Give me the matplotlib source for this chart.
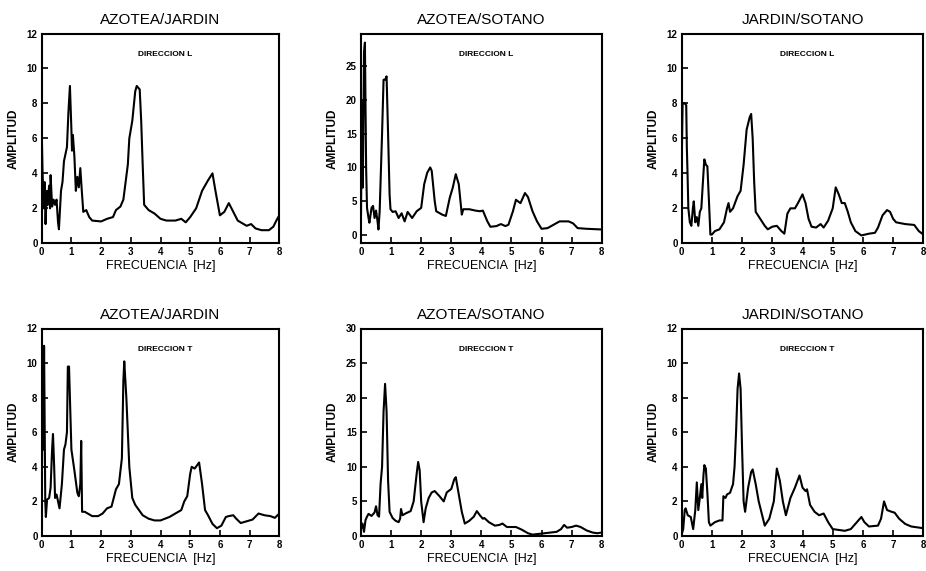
import matplotlib
matplotlib.use("Agg")
import matplotlib.pyplot as plt

plt.rcParams['font.family'] = ['Liberation Sans', 'DejaVu Sans']

# ---- Spectral ratios, direction L ----
f_azjar_L = [0.0, 0.03, 0.07, 0.1, 0.13, 0.17, 0.2, 0.25, 0.28, 0.3, 0.35, 0.4, 0.45, 0.5, 0.55,
             0.58, 0.65, 0.7, 0.75, 0.85, 0.9, 0.95, 1.0, 1.02, 1.05, 1.1, 1.15, 1.2, 1.25, 1.3,
             1.35, 1.4, 1.5, 1.6, 1.7, 2.0, 2.2, 2.4, 2.5, 2.65, 2.75, 2.9, 2.95, 3.05, 3.15,
             3.2, 3.3, 3.35, 3.4, 3.45, 3.6, 3.8, 4.0, 4.2, 4.5, 4.7, 4.85, 5.0, 5.2, 5.4,
             5.6, 5.75, 5.85, 6.0, 6.15, 6.3, 6.45, 6.6, 6.7, 6.9, 7.05, 7.2, 7.4, 7.65, 7.8,
             7.9, 8.0]
a_azjar_L = [6.5, 4.0, 2.0, 3.5, 1.1, 3.0, 2.2, 3.3, 2.0, 3.9, 2.1, 2.5, 2.2, 2.5, 1.2,
             0.8, 3.0, 3.5, 4.7, 5.5, 7.5, 9.0, 6.5, 5.3, 6.2, 5.0, 3.0, 3.8, 3.2, 4.3,
             3.0, 1.8, 1.9, 1.5, 1.3, 1.25, 1.4, 1.5, 1.9, 2.1, 2.5, 4.5, 6.0, 7.0, 8.7,
             9.0, 8.8, 7.0, 4.5, 2.2, 1.9, 1.7, 1.4, 1.3, 1.3, 1.4, 1.2, 1.5, 2.0, 3.0,
             3.6, 4.0, 3.0, 1.6, 1.8, 2.3, 1.8, 1.3, 1.2, 1.0, 1.1, 0.85, 0.75, 0.75, 0.95,
             1.3, 1.6]

f_azsot_L = [0.0, 0.03, 0.06, 0.1, 0.13, 0.17, 0.2, 0.25, 0.28, 0.35, 0.4, 0.45, 0.5, 0.55, 0.58,
             0.62, 0.7, 0.75, 0.8, 0.85, 0.9, 0.95, 0.98, 1.05, 1.15, 1.25, 1.35, 1.45, 1.55, 1.7,
             1.85, 2.0, 2.1, 2.2, 2.3, 2.35, 2.45, 2.5, 2.7, 2.82, 2.95, 3.05, 3.15, 3.25, 3.35,
             3.4, 3.6, 3.8, 3.95, 4.05, 4.2, 4.3, 4.5, 4.65, 4.8, 4.9, 5.05, 5.15, 5.3, 5.45,
             5.55, 5.7, 5.85, 6.0, 6.2, 6.4, 6.6, 6.9, 7.05, 7.2, 7.5, 8.0]
a_azsot_L = [3.0, 20.0, 7.0, 27.0, 28.5, 10.0, 4.0, 2.5, 1.8, 4.0, 4.3, 2.5, 3.6, 2.0, 0.8,
             3.5, 15.0, 23.0, 23.0, 23.5, 15.0, 6.0, 3.8, 3.4, 3.5, 2.5, 3.2, 2.0, 3.4, 2.5,
             3.5, 4.0, 7.5, 9.2, 10.0, 9.5, 5.0, 3.5, 3.0, 2.8, 5.5, 7.0, 9.0, 7.5, 3.0,
             3.8, 3.8, 3.6, 3.5, 3.6, 2.0, 1.2, 1.3, 1.6, 1.3, 1.5, 3.5, 5.2, 4.7, 6.2,
             5.6, 3.5, 2.0, 0.9, 1.0, 1.5, 2.0, 2.0, 1.7, 1.0, 0.9, 0.8]

f_jarsot_L = [0.0, 0.03, 0.1, 0.15, 0.17, 0.19, 0.22, 0.27, 0.32, 0.37, 0.4, 0.45, 0.5, 0.55, 0.6,
              0.65, 0.72, 0.75, 0.8, 0.85, 0.9, 0.95, 1.0, 1.1, 1.25, 1.4, 1.5, 1.55, 1.6, 1.7,
              1.85, 1.95, 2.05, 2.15, 2.25, 2.3, 2.35, 2.4, 2.45, 2.6, 2.75, 2.85, 3.0, 3.15, 3.3,
              3.4, 3.5, 3.6, 3.75, 3.85, 4.0, 4.1, 4.2, 4.3, 4.45, 4.6, 4.7, 4.85, 5.0, 5.1,
              5.2, 5.3, 5.4, 5.5, 5.6, 5.75, 5.95, 6.2, 6.4, 6.5, 6.65, 6.8, 6.9, 7.0, 7.1,
              7.4, 7.7, 7.85, 8.0]
a_jarsot_L = [4.5, 8.0, 8.0, 7.9, 5.5, 4.2, 2.0, 1.2, 1.0, 2.0, 2.4, 1.2, 1.5, 1.0, 1.8,
              2.0, 4.0, 4.8, 4.5, 4.4, 2.5, 0.5, 0.5, 0.7, 0.8, 1.2, 2.0, 2.3, 1.8, 2.0,
              2.7, 3.0, 4.5, 6.5, 7.2, 7.4, 6.0, 3.5, 1.8, 1.4, 1.0, 0.8, 0.95, 1.0, 0.7,
              0.55, 1.7, 2.0, 2.0, 2.3, 2.8, 2.3, 1.4, 0.95, 0.9, 1.1, 0.9, 1.3, 2.0, 3.2,
              2.8, 2.3, 2.3, 1.8, 1.2, 0.7, 0.45, 0.55, 0.6, 0.9, 1.6, 1.9, 1.8, 1.4, 1.2,
              1.1, 1.05, 0.7, 0.5]

# ---- Spectral ratios, direction T ----
f_azjar_T = [0.0, 0.03, 0.05, 0.08, 0.12, 0.14, 0.18, 0.25, 0.3, 0.35, 0.38, 0.42, 0.45, 0.5, 0.55,
             0.6, 0.68, 0.75, 0.8, 0.85, 0.88, 0.92, 0.95, 1.0, 1.1, 1.2, 1.25, 1.3, 1.33, 1.36,
             1.45, 1.55, 1.7, 1.9, 2.05, 2.2, 2.35, 2.5, 2.6, 2.7, 2.75, 2.78, 2.85, 2.95, 3.05,
             3.15, 3.4, 3.6, 3.8, 4.0, 4.3, 4.5, 4.7, 4.8, 4.9, 5.0, 5.05, 5.15, 5.3, 5.4,
             5.5, 5.6, 5.75, 5.9, 6.05, 6.2, 6.3, 6.45, 6.55, 6.7, 6.9, 7.1, 7.3, 7.5, 7.7,
             7.85, 8.0]
a_azjar_T = [1.5, 9.3, 5.0, 11.0, 2.0, 1.1, 2.1, 2.2, 2.8, 5.0, 5.9, 4.0, 2.2, 2.4, 2.0,
             1.6, 3.0, 5.0, 5.3, 6.0, 9.8, 9.8, 8.0, 5.0, 3.8, 2.5, 2.3, 3.0, 5.5, 1.4,
             1.4, 1.3, 1.15, 1.15, 1.3, 1.6, 1.7, 2.7, 3.0, 4.5, 9.0, 10.1, 8.0, 4.0, 2.2,
             1.8, 1.2, 1.0, 0.9, 0.9, 1.1, 1.3, 1.5, 2.0, 2.3, 3.6, 4.0, 3.9, 4.25, 3.0,
             1.5, 1.2, 0.7, 0.45, 0.6, 1.1, 1.15, 1.2, 1.0, 0.75, 0.85, 0.95, 1.3, 1.2, 1.15,
             1.05, 1.3]

f_azsot_T = [0.0, 0.05, 0.1, 0.15, 0.2, 0.25, 0.35, 0.45, 0.5, 0.55, 0.6, 0.65, 0.7, 0.75, 0.8,
             0.85, 0.9, 0.95, 1.05, 1.15, 1.25, 1.3, 1.33, 1.38, 1.5, 1.65, 1.75, 1.85, 1.9, 1.95,
             2.0, 2.08, 2.15, 2.25, 2.35, 2.45, 2.6, 2.75, 2.85, 3.0, 3.1, 3.15, 3.25, 3.35, 3.45,
             3.6, 3.75, 3.85, 3.95, 4.05, 4.1, 4.25, 4.45, 4.6, 4.7, 4.85, 5.0, 5.15, 5.35, 5.55,
             5.7, 5.9, 6.1, 6.3, 6.5, 6.65, 6.75, 6.85, 7.0, 7.15, 7.3, 7.5, 7.7, 7.85, 8.0]
a_azsot_T = [1.0, 1.8, 0.6, 2.3, 2.8, 3.2, 2.9, 3.4, 4.3, 3.0, 2.8, 7.5, 10.0, 18.0, 22.0,
             18.0, 8.0, 3.5, 2.6, 2.2, 2.0, 2.5, 3.9, 3.0, 3.3, 3.6, 5.0, 9.0, 10.7, 9.5,
             5.0, 2.0, 4.0, 5.5, 6.3, 6.5, 5.8, 5.0, 6.3, 6.8, 8.2, 8.5, 6.0, 3.5, 1.8,
             2.2, 2.8, 3.6, 3.0, 2.5, 2.6, 2.0, 1.5, 1.6, 1.8, 1.3, 1.3, 1.3, 0.9, 0.4,
             0.2, 0.3, 0.4, 0.5, 0.6, 1.0, 1.6, 1.2, 1.3, 1.5, 1.3, 0.8, 0.5, 0.4, 0.5]

f_jarsot_T = [0.0, 0.05, 0.1, 0.13, 0.2, 0.3, 0.38, 0.45, 0.5, 0.55, 0.6, 0.65, 0.68, 0.72, 0.75,
              0.8, 0.85, 0.9, 0.95, 1.1, 1.25, 1.35, 1.38, 1.45, 1.5, 1.6, 1.7, 1.75, 1.8, 1.85,
              1.9, 1.95, 2.0, 2.05, 2.1, 2.2, 2.3, 2.35, 2.45, 2.55, 2.65, 2.75, 2.9, 3.05, 3.15,
              3.25, 3.35, 3.45, 3.6, 3.75, 3.9, 4.0, 4.1, 4.15, 4.25, 4.4, 4.55, 4.7, 4.85, 5.0,
              5.2, 5.4, 5.6, 5.75, 5.95, 6.05, 6.2, 6.5, 6.6, 6.7, 6.8, 6.95, 7.05, 7.2, 7.4,
              7.6, 7.8, 8.0]
a_jarsot_T = [0.1, 0.4, 1.5, 1.6, 1.2, 1.1, 0.4, 1.5, 3.1, 1.5, 2.2, 3.0, 2.2, 3.5, 4.1,
              3.9, 2.5, 0.8, 0.6, 0.8, 0.9, 0.9, 2.3, 2.2, 2.4, 2.5, 3.0, 4.0, 6.0, 8.5,
              9.4, 8.5, 5.0, 2.0, 1.4, 2.8, 3.7, 3.85, 3.0, 2.0, 1.3, 0.6, 1.0, 2.0, 3.9,
              3.2, 2.0, 1.2, 2.2, 2.8, 3.5, 2.8, 2.6, 2.7, 1.8, 1.4, 1.2, 1.3, 0.8, 0.4,
              0.35, 0.3, 0.4, 0.7, 1.1, 0.8, 0.55, 0.6, 1.0, 2.0, 1.5, 1.4, 1.35, 1.0, 0.7,
              0.55, 0.5, 0.45]

titles = ["AZOTEA/JARDIN", "AZOTEA/SOTANO", "JARDIN/SOTANO"]
directions = ["DIRECCION L", "DIRECCION T"]
x_ticks = [0, 1, 2, 3, 4, 5, 6, 7, 8]
y_ticks_small = [0, 2, 4, 6, 8, 10, 12]
y_ticks_L_mid = [0, 5, 10, 15, 20, 25]
y_ticks_T_mid = [0, 5, 10, 15, 20, 25, 30]

panels = [
    # row, col, freqs, amps, ylim, yticks
    (0, 0, f_azjar_L, a_azjar_L, (0, 12), y_ticks_small),
    (0, 1, f_azsot_L, a_azsot_L, (-1.25, 29.85), y_ticks_L_mid),
    (0, 2, f_jarsot_L, a_jarsot_L, (0, 12), y_ticks_small),
    (1, 0, f_azjar_T, a_azjar_T, (0, 12), y_ticks_small),
    (1, 1, f_azsot_T, a_azsot_T, (0, 30), y_ticks_T_mid),
    (1, 2, f_jarsot_T, a_jarsot_T, (0, 12), y_ticks_small),
]

W, H = 926, 571
col_left = [41.7, 361.0, 681.7]
col_width = [237.6, 240.7, 241.6]
row_top = [33.5, 328.5]
row_bottom = [243.3, 536.0]

fig = plt.figure(figsize=(W / 100, H / 100), dpi=100)

for row, col, f, a, ylim, yticks in panels:
    assert len(f) == len(a)
    l, w = col_left[col], col_width[col]
    t, b = row_top[row], row_bottom[row]
    ax = fig.add_axes([l / W, 1 - b / H, w / W, (b - t) / H])
    ax.plot(f, a, color='black', linewidth=1.5, solid_joinstyle='round')
    ax.set_xlim(0, 8)
    ax.set_ylim(*ylim)
    ax.set_xticks(x_ticks)
    ax.set_yticks(yticks)
    ax.tick_params(direction='in', length=4, width=1.2, top=False, right=False,
                   labelsize=7, pad=3)
    for lab in ax.get_xticklabels() + ax.get_yticklabels():
        lab.set_fontweight('bold')
    for sp in ax.spines.values():
        sp.set_linewidth(1.5)
    ax.set_title(titles[col], fontsize=11, pad=7)
    ax.set_xlabel("FRECUENCIA  [Hz]", fontsize=9, labelpad=2)
    ax.set_ylabel("AMPLITUD", fontsize=8.5, fontweight='bold', labelpad=5)
    ax.text(0.52, 0.9, directions[row], transform=ax.transAxes, ha='center', va='center',
            fontsize=6, fontweight='bold')

fig.savefig("out.png", dpi=100)
